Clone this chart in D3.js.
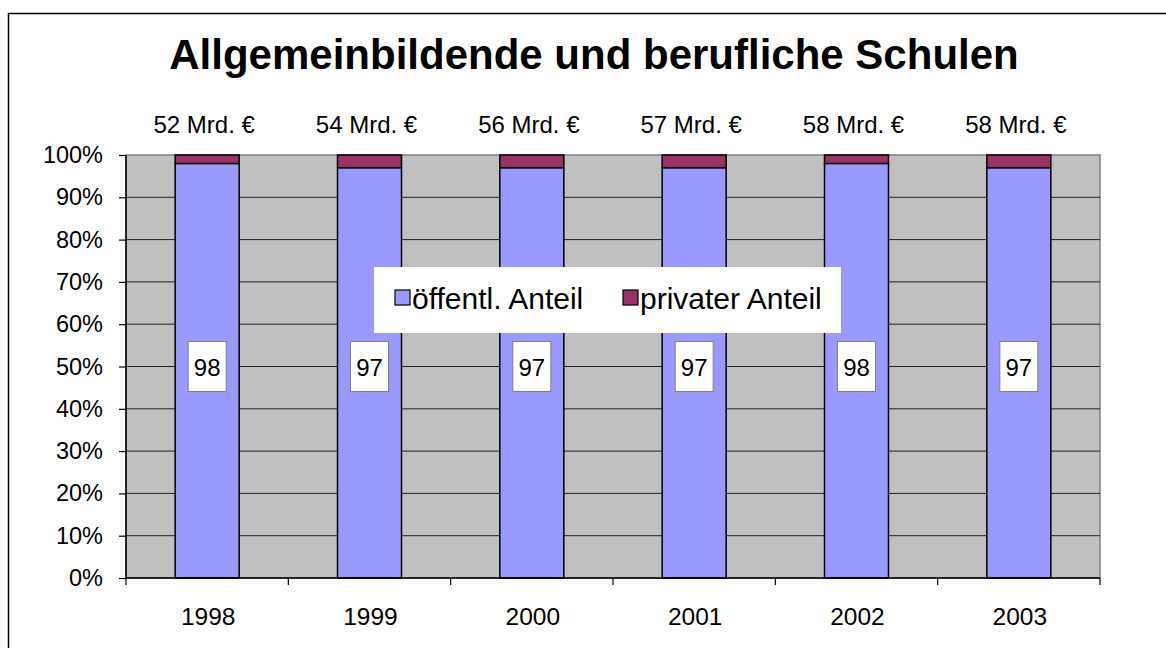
<!DOCTYPE html>
<html>
<head>
<meta charset="utf-8">
<script src="https://cdn.jsdelivr.net/npm/d3@7"></script>
<style>
  body { margin: 0; background: #fff; }
  svg { display: block; font-family: "Liberation Sans", Arial, sans-serif; }
</style>
</head>
<body>
<svg id="chart" width="1166" height="648"></svg>
<script>
var years = ["1998", "1999", "2000", "2001", "2002", "2003"];
var publicShare = [98, 97, 97, 97, 98, 97];
var privateShare = [2, 3, 3, 3, 2, 3];
var totals = ["52 Mrd. €", "54 Mrd. €", "56 Mrd. €", "57 Mrd. €", "58 Mrd. €", "58 Mrd. €"];
var seriesNames = ["öffentl. Anteil", "privater Anteil"];
var colors = ["#9999FF", "#993366"];
var yTicks = [0, 10, 20, 30, 40, 50, 60, 70, 80, 90, 100];

var svg = d3.select("#chart");

// outer frame (right/bottom edges are outside the picture)
svg.append("rect")
    .attr("x", 8.5).attr("y", 13.5)
    .attr("width", 1300).attr("height", 800)
    .attr("fill", "#fff").attr("stroke", "#000").attr("stroke-width", 1.5);

var plotLeft = 126, plotRight = 1100, plotTop = 155, plotBottom = 578;

var x = d3.scaleBand().domain(years).range([plotLeft, plotRight]).paddingInner(0).paddingOuter(0);
var y = d3.scaleLinear().domain([0, 100]).range([plotBottom, plotTop]);
var barW = 64;

// title
svg.append("text")
    .attr("x", 594).attr("y", 69)
    .attr("text-anchor", "middle")
    .style("font-size", "42px").style("font-weight", "bold")
    .text("Allgemeinbildende und berufliche Schulen");

// plot background
svg.append("rect")
    .attr("x", plotLeft).attr("y", plotTop)
    .attr("width", plotRight - plotLeft).attr("height", plotBottom - plotTop)
    .attr("fill", "#C0C0C0").attr("stroke", "#808080").attr("stroke-width", 1.5);

// gridlines
svg.selectAll(".grid")
    .data(yTicks.slice(1, -1))
    .enter().append("line")
    .attr("x1", plotLeft).attr("x2", plotRight)
    .attr("y1", d => y(d)).attr("y2", d => y(d))
    .attr("stroke", "#222").attr("stroke-width", 1);

// stacked bars
var stack = years.map((yr, i) => ({ year: yr, pub: publicShare[i], priv: privateShare[i], total: totals[i] }));
var cx = d => x(d.year) + x.bandwidth() / 2;

svg.selectAll(".pub")
    .data(stack)
    .enter().append("rect")
    .attr("x", d => cx(d) - barW / 2)
    .attr("y", d => y(d.pub))
    .attr("width", barW)
    .attr("height", d => y(0) - y(d.pub))
    .attr("fill", colors[0]).attr("stroke", "#000").attr("stroke-width", 1.5);

svg.selectAll(".priv")
    .data(stack)
    .enter().append("rect")
    .attr("x", d => cx(d) - barW / 2)
    .attr("y", d => y(d.pub + d.priv))
    .attr("width", barW)
    .attr("height", d => y(d.pub) - y(d.pub + d.priv))
    .attr("fill", colors[1]).attr("stroke", "#000").attr("stroke-width", 1.5);

// value labels in boxes
var lab = svg.selectAll(".lab").data(stack).enter().append("g");
lab.append("rect")
    .attr("x", d => cx(d) - 19).attr("y", y(50) - 25)
    .attr("width", 38).attr("height", 50)
    .attr("fill", "#fff").attr("stroke", "#808080").attr("stroke-width", 1);
lab.append("text")
    .attr("x", d => cx(d)).attr("y", y(50) + 9)
    .attr("text-anchor", "middle")
    .style("font-size", "24px")
    .text(d => d.pub);

// totals above bars
svg.selectAll(".tot")
    .data(stack)
    .enter().append("text")
    .attr("x", d => cx(d) - 3).attr("y", 133)
    .attr("text-anchor", "middle")
    .style("font-size", "24px")
    .text(d => d.total);

// y axis
var yAxis = d3.axisLeft(y).tickValues(yTicks).tickSize(7).tickPadding(16).tickFormat(d => d + "%");
var gy = svg.append("g").attr("transform", "translate(" + plotLeft + ",0)").call(yAxis);
gy.select(".domain").attr("stroke", "#000").attr("stroke-width", 1.5).attr("d", "M0," + plotTop + "V" + plotBottom);
gy.selectAll(".tick line").attr("stroke", "#000").attr("stroke-width", 1.2);
gy.selectAll("text").style("font-size", "23.5px").style("font-family", "Liberation Sans, Arial, sans-serif").attr("fill", "#000");

// x axis
var gx = svg.append("g").attr("transform", "translate(0," + plotBottom + ")");
gx.append("line").attr("x1", plotLeft).attr("x2", plotRight).attr("stroke", "#000").attr("stroke-width", 1.5);
var bounds = years.map(d => x(d)).concat([plotRight]);
gx.selectAll(".xt")
    .data(bounds)
    .enter().append("line")
    .attr("x1", d => d).attr("x2", d => d)
    .attr("y1", 0).attr("y2", 7)
    .attr("stroke", "#000").attr("stroke-width", 1.2);
gx.selectAll(".xl")
    .data(years)
    .enter().append("text")
    .attr("x", d => x(d) + x.bandwidth() / 2 + 1).attr("y", 47)
    .attr("text-anchor", "middle")
    .style("font-size", "24.5px")
    .text(d => d);

// legend
var lg = svg.append("g");
lg.append("rect")
    .attr("x", 374).attr("y", 267).attr("width", 467).attr("height", 66)
    .attr("fill", "#fff");
var legendX = [395, 623];
seriesNames.forEach(function(name, i) {
    lg.append("rect")
        .attr("x", legendX[i]).attr("y", 290).attr("width", 15).attr("height", 15)
        .attr("fill", colors[i]).attr("stroke", "#000").attr("stroke-width", 1.2);
    lg.append("text")
        .attr("x", legendX[i] + 17).attr("y", 309)
        .style("font-size", "30px")
        .text(name);
});
</script>
</body>
</html>
